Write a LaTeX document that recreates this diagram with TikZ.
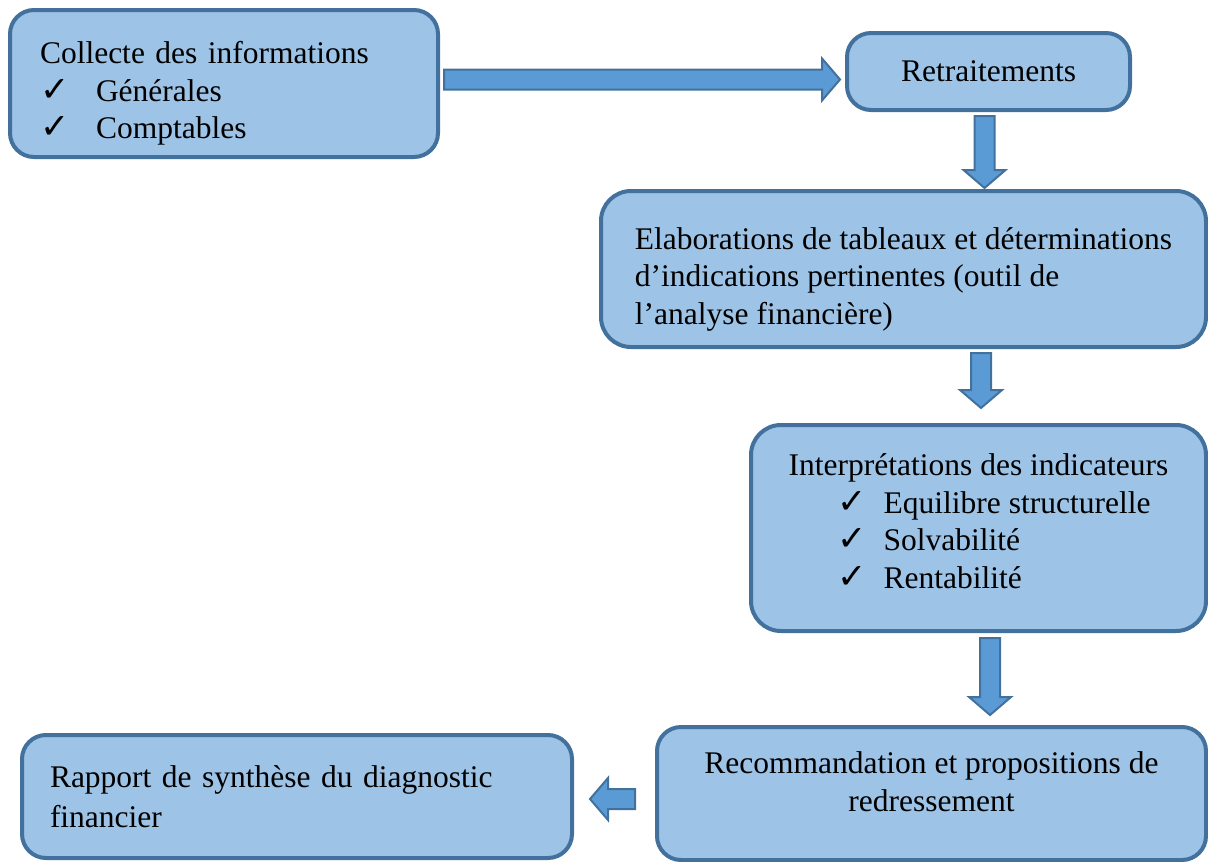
\documentclass[tikz,border=0pt]{standalone}
\usepackage{fontspec}
\setmainfont{Liberation Serif}
\newfontfamily\symfont{DejaVu Sans}
\usetikzlibrary{calc}

\definecolor{boxfill}{HTML}{9DC3E6}
\definecolor{boxline}{HTML}{41719C}
\definecolor{arrowfill}{HTML}{5B9BD5}

\newcommand{\chk}[1][56pt]{\makebox[#1][l]{{\symfont\fontsize{35}{35}\selectfont ✓}}}
% block arrow from #1 to #2
\newcommand{\blockarrow}[2]{%
  \coordinate (bh) at ($(#2)!18pt!(#1)$);
  \draw[barrow] ($(#1)!10pt!90:(#2)$) -- ($(bh)!10pt!90:(#2)$) -- ($(bh)!21pt!90:(#2)$) -- (#2)
    -- ($(bh)!21pt!-90:(#2)$) -- ($(bh)!10pt!-90:(#2)$) -- ($(#1)!10pt!-90:(#2)$) -- cycle;
}

\begin{document}
\begin{tikzpicture}[x=1pt, y=-1pt,
  box/.style={draw=boxline, fill=boxfill, line width=4pt, rounded corners=24pt,
    inner sep=0pt, font=\fontsize{31.5}{37.5}\selectfont},
  barrow/.style={draw=boxline, fill=arrowfill, line width=2pt, line join=miter}]
\useasboundingbox (0,0) rectangle (1208,862);
% boxes
\node[box, minimum width=428pt, minimum height=147pt, text width=368pt, align=left] (collecte) at (224,83.5)
  {\rule{0pt}{42pt}Collecte des informations\\ \chk Générales\\ \chk Comptables};
\node[box, minimum width=283pt, minimum height=77pt, align=center] (retrait) at (988.5,71.5) {Retraitements};
\node[box, minimum width=605pt, minimum height=156pt, align=left, rounded corners=30pt] (tableaux) at (903.5,269)
  {\rule{0pt}{42pt}Elaborations de tableaux et déterminations\\ d’indications pertinentes (outil de\\ l’analyse financière)};
\node[box, minimum width=455pt, minimum height=206pt, align=left, rounded corners=30pt] (interp) at (978.5,528)
  {Interprétations des indicateurs\\ \hspace{49pt}\chk[46pt]Equilibre structurelle\\
   \hspace{49pt}\chk[46pt]Solvabilité\\ \hspace{49pt}\chk[46pt]Rentabilité\rule[-14pt]{0pt}{14pt}};
\node[box, minimum width=549pt, minimum height=133pt, align=center] (recom) at (931.5,793.5)
  {Recommandation et propositions de\\ redressement\rule[-24pt]{0pt}{24pt}};
\node[box, minimum width=550pt, minimum height=123pt, text width=494pt, align=left] (rapport) at (297,796.5)
  {Rapport de synthèse du diagnostic\\[3pt] financier};
% arrows
\blockarrow{$(collecte.east)+(4,-4)$}{$(retrait.west)+(-5,8)$}
\blockarrow{$(retrait.south)+(-4,4)$}{$(tableaux.north -| retrait.south)+(-4,-1)$}
\blockarrow{$(tableaux.south -| interp.north)+(2.5,4)$}{$(interp.north)+(2.5,-15)$}
\blockarrow{$(interp.south)+(11.5,5)$}{$(recom.north -| interp.south)+(11.5,-10)$}
\blockarrow{$(recom.west)+(-20,5.5)$}{$(rapport.east)+(16,2.5)$}
\end{tikzpicture}
\end{document}
